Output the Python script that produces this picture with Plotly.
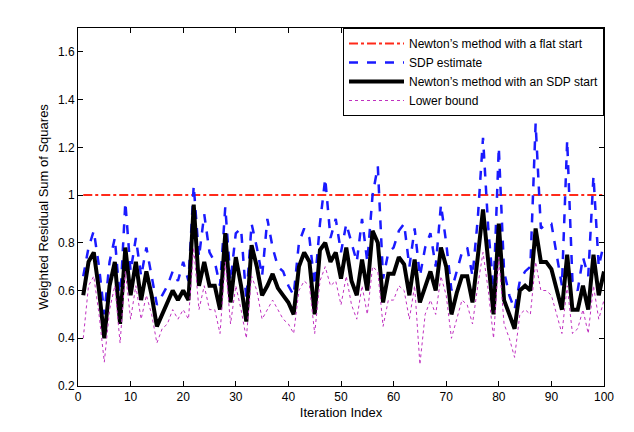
import plotly.graph_objects as go

iters = list(range(1, 101))

flat_start = [1.0] * 100

sdp_estimate = [
    0.66, 0.78, 0.85, 0.70, 0.50, 0.72, 0.82, 0.55, 0.97, 0.68,
    0.82, 0.66, 0.78, 0.66, 0.54, 0.58, 0.62, 0.68, 0.64, 0.72,
    0.64, 1.04, 0.74, 0.92, 0.76, 0.72, 0.62, 0.95, 0.64, 0.84,
    0.86, 0.56, 0.88, 0.78, 0.66, 0.90, 0.78, 0.70, 0.68, 0.62,
    0.58, 0.80, 0.86, 0.82, 0.62, 0.88, 1.07, 0.82, 0.90, 0.76,
    0.88, 0.80, 0.72, 0.90, 0.72, 1.00, 1.12, 0.65, 0.76, 0.78,
    0.85, 0.88, 0.70, 0.86, 0.66, 0.78, 0.84, 0.70, 0.96, 0.80,
    0.60, 0.68, 0.76, 0.78, 0.66, 0.90, 1.24, 0.86, 0.60, 1.20,
    0.68, 0.58, 0.52, 0.64, 0.68, 0.70, 1.30, 0.86, 0.88, 0.88,
    0.74, 0.62, 1.23, 0.64, 0.60, 0.74, 0.66, 1.08, 0.70, 0.80,
]

sdp_start = [
    0.58, 0.72, 0.76, 0.60, 0.40, 0.62, 0.72, 0.46, 0.78, 0.58,
    0.72, 0.56, 0.68, 0.58, 0.45, 0.50, 0.54, 0.60, 0.56, 0.60,
    0.56, 0.96, 0.62, 0.72, 0.62, 0.62, 0.52, 0.84, 0.55, 0.74,
    0.62, 0.47, 0.79, 0.70, 0.58, 0.62, 0.67, 0.61, 0.58, 0.55,
    0.50, 0.70, 0.76, 0.72, 0.50, 0.77, 0.80, 0.72, 0.76, 0.65,
    0.78, 0.64, 0.58, 0.73, 0.60, 0.85, 0.80, 0.55, 0.67, 0.67,
    0.74, 0.71, 0.58, 0.73, 0.55, 0.62, 0.68, 0.60, 0.78, 0.70,
    0.50, 0.59, 0.66, 0.66, 0.55, 0.74, 0.94, 0.72, 0.50, 0.88,
    0.56, 0.50, 0.44, 0.60, 0.62, 0.60, 0.86, 0.72, 0.72, 0.69,
    0.60, 0.52, 0.75, 0.52, 0.52, 0.62, 0.52, 0.75, 0.58, 0.68,
]

lower_bound = [
    0.40, 0.62, 0.66, 0.50, 0.30, 0.52, 0.62, 0.38, 0.68, 0.48,
    0.62, 0.48, 0.58, 0.50, 0.38, 0.44, 0.46, 0.52, 0.48, 0.52,
    0.48, 0.78, 0.52, 0.62, 0.52, 0.52, 0.42, 0.72, 0.46, 0.62,
    0.52, 0.40, 0.66, 0.60, 0.48, 0.52, 0.56, 0.52, 0.48, 0.46,
    0.42, 0.60, 0.64, 0.62, 0.42, 0.64, 0.70, 0.62, 0.64, 0.54,
    0.66, 0.54, 0.48, 0.62, 0.50, 0.70, 0.68, 0.45, 0.56, 0.56,
    0.62, 0.60, 0.48, 0.62, 0.29, 0.50, 0.56, 0.50, 0.66, 0.58,
    0.40, 0.48, 0.56, 0.54, 0.46, 0.62, 0.76, 0.60, 0.40, 0.74,
    0.46, 0.40, 0.32, 0.50, 0.52, 0.50, 0.72, 0.60, 0.60, 0.58,
    0.50, 0.42, 0.62, 0.42, 0.44, 0.52, 0.42, 0.62, 0.48, 0.56,
]

fig = go.Figure()
fig.add_trace(go.Scatter(x=iters, y=flat_start, mode="lines",
                         name="Newton\u2019s method with a flat start",
                         line=dict(color="#ff2a1a", width=2, dash="dashdot")))
fig.add_trace(go.Scatter(x=iters, y=sdp_estimate, mode="lines", name="SDP estimate",
                         line=dict(color="#1a1aff", width=2.5, dash="dash")))
fig.add_trace(go.Scatter(x=iters, y=sdp_start, mode="lines",
                         name="Newton\u2019s method with an SDP start",
                         line=dict(color="black", width=4)))
fig.add_trace(go.Scatter(x=iters, y=lower_bound, mode="lines", name="Lower bound",
                         line=dict(color="#c030c0", width=1, dash="dot")))

axis = dict(showgrid=False, zeroline=False, showline=True, linecolor="black",
            mirror="ticks", ticks="inside", ticklen=5, tickcolor="black",
            tickfont=dict(size=12, color="black"))
fig.update_xaxes(range=[0, 100], dtick=10, title=dict(text="Iteration Index", standoff=4,
                 font=dict(size=13, color="black")), **axis)
fig.update_yaxes(range=[0.2, 1.7], tickvals=[0.2, 0.4, 0.6, 0.8, 1.0, 1.2, 1.4, 1.6],
                 ticktext=["0.2", "0.4", "0.6", "0.8", "1", "1.2", "1.4", "1.6"],
                 title=dict(text="Weighted Residual Sum of Squares", standoff=6,
                            font=dict(size=13, color="black")), **axis)

fig.update_layout(
    width=634, height=432,
    plot_bgcolor="white", paper_bgcolor="white",
    font=dict(family="Liberation Sans, Arial", size=12, color="black"),
    margin=dict(l=70, r=38, t=20, b=54),
    legend=dict(x=1, y=1, xanchor="right", yanchor="top", bgcolor="white",
                bordercolor="black", borderwidth=1, font=dict(size=12),
                tracegroupgap=0, itemwidth=55),
)

fig.write_html("out.html")
